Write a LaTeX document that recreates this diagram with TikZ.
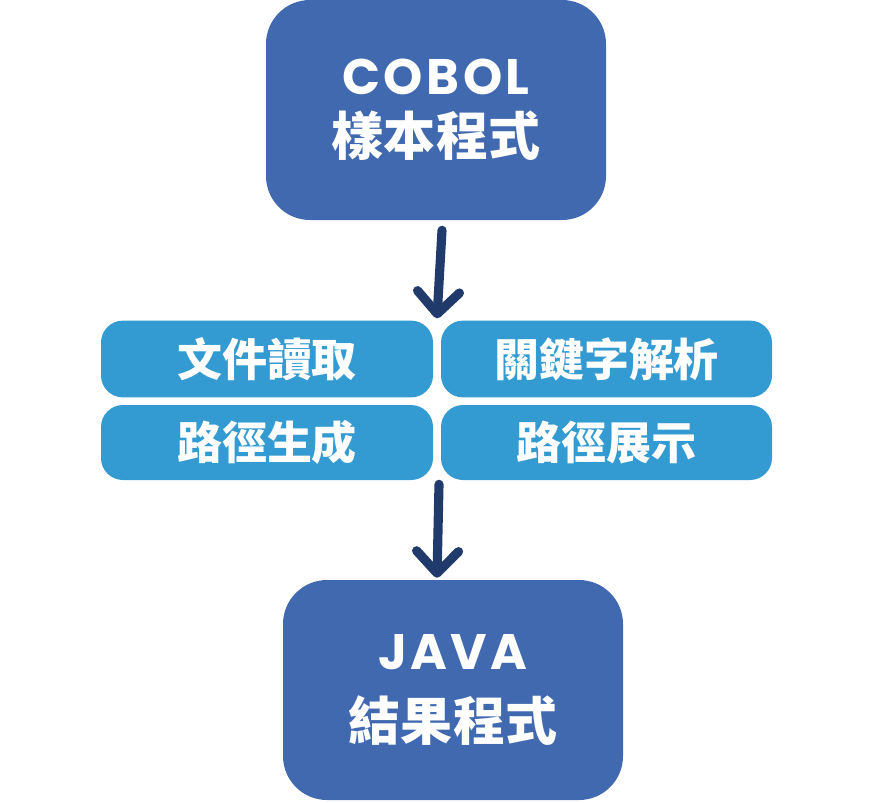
\documentclass[tikz,border=0pt]{standalone}
\usepackage{fontspec}
\newfontfamily\popfont{Poppins}[LetterSpace=7]
\newfontfamily\cjk{Noto Sans CJK TC}
\usetikzlibrary{arrows.meta,calc}

\definecolor{darkbox}{HTML}{4169B0}
\definecolor{lightbox}{HTML}{339BD1}
\definecolor{arrowblue}{HTML}{1F3A6B}

\begin{document}
\begin{tikzpicture}[
    bigbox/.style={fill=darkbox, rounded corners=1.1cm, text=white,
        minimum width=8.5cm, minimum height=5.5cm, align=center,
        font=\cjk\bfseries\fontsize{37}{43.2}\selectfont},
    stepbox/.style={fill=lightbox, rounded corners=0.55cm, text=white,
        minimum width=8.3cm, minimum height=1.92cm,
        font=\cjk\bfseries\fontsize{32}{32}\selectfont},
    flow/.style={draw=arrowblue, line width=6.5pt, line cap=round,
        -{Straight Barb[length=0.55cm, width=1.05cm, line cap=round, round]}}
]
\useasboundingbox (0,0) rectangle (21.825,-20.05);

\node [bigbox] (cobol) at (10.9,-2.75)
    {{\popfont\bfseries\fontsize{35.5}{43.2}\selectfont COBOL}\\
     樣本程式};

\node [stepbox]                     (read)    at ( 6.675,-8.975)  {文件讀取};
\node [stepbox, minimum width=8.275cm] (keyword) at (15.1625,-8.975) {關鍵字解析};
\node [stepbox, minimum height=1.875cm]
                                    (gen)     at ( 6.675,-11.0625) {路徑生成};
\node [stepbox, minimum width=8.275cm, minimum height=1.875cm]
                                    (show)    at (15.1625,-11.0625) {路徑展示};

\node [bigbox] (java) at (11.325,-17.25)
    {{\popfont\bfseries\fontsize{35.5}{43.2}\selectfont JAVA}\\[7pt]
     結果程式};

\coordinate (midtop) at ($(read.north east)!0.5!(keyword.north west)$);
\coordinate (midbot) at ($(gen.south east)!0.5!(show.south west)$);

\draw [flow] ([xshift=0.15cm, yshift=-0.25cm]cobol.south) -- ([yshift=0.05cm]midtop);
\draw [flow] ([xshift=0.05cm, yshift=-0.1cm]midbot) -- ([xshift=-0.4cm, yshift=0.05cm]java.north);
\end{tikzpicture}
\end{document}
